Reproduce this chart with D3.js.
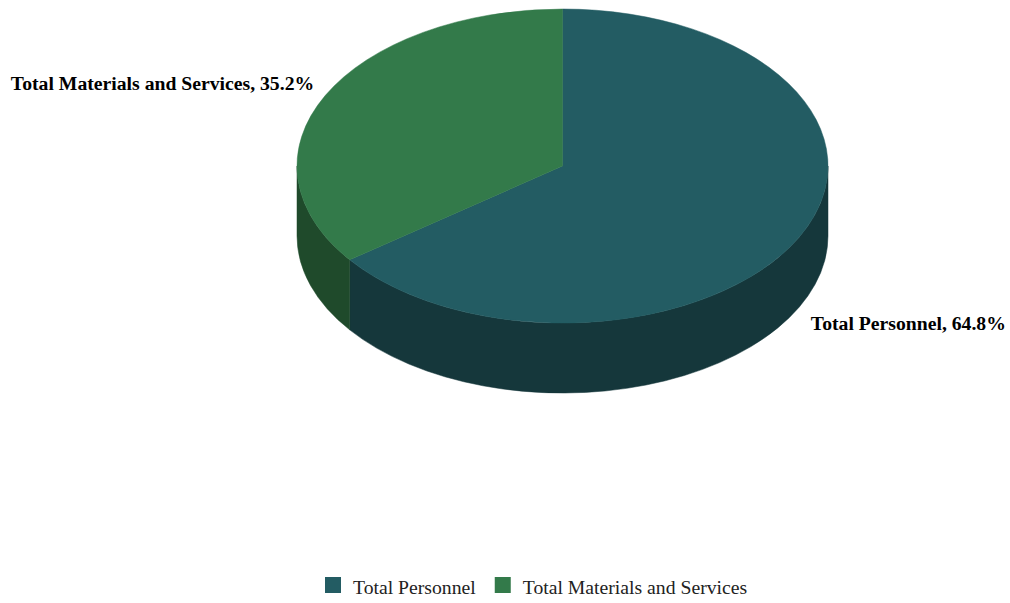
<!DOCTYPE html>
<html><head><meta charset="utf-8">
<script src="https://cdn.jsdelivr.net/npm/d3@7"></script>
<style>body{margin:0;background:#fff;}svg{display:block;font-family:"Liberation Serif","Times New Roman",serif;}</style>
</head><body>
<svg id="c" width="1010" height="603"></svg>
<script>
const categories = ["Total Personnel", "Total Materials and Services"];
const values = [64.8, 35.2];
const topColors = ["#235c63", "#337a4a"];
const sideColors = ["#15373b", "#1f4a2b"];

const W = 1010, H = 603;
const cx = 562.5, cy = 166, rx = 265.5, ry = 157, depth = 70;
const svg = d3.select("#c");

const pie = d3.pie().sort(null).value(d => d)(values);
const pt = (a, dy = 0) => [cx + rx * Math.sin(a), cy - ry * Math.cos(a) + dy];

const g = svg.append("g");
pie.forEach((s, i) => {
  const a0 = Math.max(s.startAngle, Math.PI / 2), a1 = Math.min(s.endAngle, 3 * Math.PI / 2);
  if (a1 <= a0) return;
  const p0 = pt(a0), p1 = pt(a1), q1 = pt(a1, depth), q0 = pt(a0, depth);
  const path = `M${p0}A${rx},${ry} 0 0 1 ${p1}L${q1}A${rx},${ry} 0 0 0 ${q0}Z`;
  g.append("path").attr("d", path).attr("fill", sideColors[i]).attr("stroke", sideColors[i]).attr("stroke-width", 0.5);
});
pie.forEach((s, i) => {
  const p0 = pt(s.startAngle), p1 = pt(s.endAngle);
  const large = (s.endAngle - s.startAngle) > Math.PI ? 1 : 0;
  const path = `M${cx},${cy}L${p0}A${rx},${ry} 0 ${large} 1 ${p1}Z`;
  g.append("path").attr("d", path).attr("fill", topColors[i]).attr("stroke", topColors[i]).attr("stroke-width", 0.5);
});

pie.forEach((s, i) => {
  const m = (s.startAngle + s.endAngle) / 2;
  const p = pt(m);
  const right = Math.sin(m) > 0;
  const x = right ? p[0] + 11 : p[0] - 11;
  const y = right ? p[1] + depth + 17 : p[1] - 12;
  svg.append("text").attr("x", x).attr("y", y).attr("dy", "0.35em")
    .attr("text-anchor", right ? "start" : "end")
    .attr("font-size", 19.7).attr("font-weight", "bold").attr("fill", "#000")
    .text(`${categories[i]}, ${values[i].toFixed(1)}%`);
});

const leg = svg.append("g");
let lx = 325;
categories.forEach((c, i) => {
  leg.append("rect").attr("x", lx).attr("y", 577).attr("width", 16).attr("height", 16).attr("fill", topColors[i]);
  const t = leg.append("text").attr("x", lx + 28).attr("y", 587).attr("dy", "0.35em")
    .attr("font-size", 19.7).attr("fill", "#222").text(c);
  lx += 28 + t.node().getComputedTextLength() + 19;
});
</script>
</body></html>
